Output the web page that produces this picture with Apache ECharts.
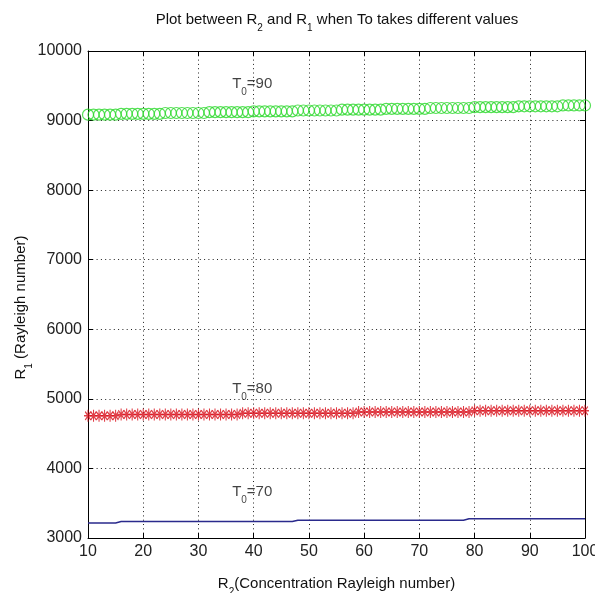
<!DOCTYPE html>
<html>
<head>
<meta charset="utf-8">
<script src="https://cdn.jsdelivr.net/npm/echarts@6/dist/echarts.min.js"></script>
<style>
html,body{margin:0;padding:0;background:#fff;}
#chart{width:595px;height:593px;}
</style>
</head>
<body>
<div id="chart"></div>
<script>
// R2 (Concentration Rayleigh number) sample points
var r2Values = [10,11,12,13,14,15,16,17,18,19,20,21,22,23,24,25,26,27,28,29,30,31,32,33,34,35,36,37,38,39,40,41,42,43,44,45,46,47,48,49,50,51,52,53,54,55,56,57,58,59,60,61,62,63,64,65,66,67,68,69,70,71,72,73,74,75,76,77,78,79,80,81,82,83,84,85,86,87,88,89,90,91,92,93,94,95,96,97,98,99,100];

// R1 for T0 = 90 (green circles)
var r1T90 = [9085,9085,9085,9085,9085,9085,
  9097,9097,9097,9097,9097,9097,9097,9097,
  9109,9109,9109,9109,9109,9109,9109,9109,
  9121,9121,9121,9121,9121,9121,9121,9121,
  9133,9133,9133,9133,9133,9133,9133,9133,
  9145,9145,9145,9145,9145,9145,9145,9145,
  9157,9157,9157,9157,9157,9157,9157,9157,
  9169,9169,9169,9169,9169,9169,9169,9169,
  9181,9181,9181,9181,9181,9181,9181,9181,
  9193,9193,9193,9193,9193,9193,9193,9193,
  9205,9205,9205,9205,9205,9205,9205,9205,
  9217,9217,9217,9217,9217];

// R1 for T0 = 80 (red asterisks)
var r1T80 = [4757,4757,4757,4757,4757,4757,
  4775,4775,4775,4775,4775,4775,4775,4775,4775,4775,4775,4775,4775,4775,4775,4775,4775,4775,4775,4775,4775,4775,
  4793,4793,4793,4793,4793,4793,4793,4793,4793,4793,4793,4793,4793,4793,4793,4793,4793,4793,4793,4793,4793,
  4811,4811,4811,4811,4811,4811,4811,4811,4811,4811,4811,4811,4811,4811,4811,4811,4811,4811,4811,4811,4811,
  4829,4829,4829,4829,4829,4829,4829,4829,4829,4829,4829,4829,4829,4829,4829,4829,4829,4829,4829,4829,4829];

// R1 for T0 = 70 (blue line)
var r1T70 = [3215,3215,3215,3215,3215,3215,
  3236,3236,3236,3236,3236,3236,3236,3236,3236,3236,3236,3236,3236,3236,3236,3236,3236,3236,3236,3236,3236,3236,3236,3236,3236,3236,3236,3236,3236,3236,3236,3236,
  3256,3256,3256,3256,3256,3256,3256,3256,3256,3256,3256,3256,3256,3256,3256,3256,3256,3256,3256,3256,3256,3256,3256,3256,3256,3256,3256,3256,3256,3256,3256,
  3277,3277,3277,3277,3277,3277,3277,3277,3277,3277,3277,3277,3277,3277,3277,3277,3277,3277,3277,3277,3277,3277];

// Annotation labels
var labelTexts = ['90','80','70'];
var labelX = [36.1, 36.1, 36.1];
var labelY = [9483, 5099, 3625];

var xTicks = {min:10, max:100, interval:10};
var yTicks = {min:3000, max:10000, interval:1000};

function pairs(xs, ys){ var out=[]; for (var i=0;i<xs.length;i++) out.push([xs[i], ys[i]]); return out; }

var FONT = "'Liberation Sans',Arial,Helvetica,sans-serif";
var FS = 15;
var rich = {
  n: {fontFamily: FONT, fontSize: FS, fontWeight: 'normal', lineHeight: FS, verticalAlign: 'top', color: '#111'},
  s: {fontFamily: FONT, fontSize: 10, fontWeight: 'normal', lineHeight: 21, verticalAlign: 'bottom', color: '#111'}
};

var gridLine = {show: true, lineStyle: {color: '#222', width: 1, type: [1, 3.3]}};
var axLine = {show: true, lineStyle: {color: '#000', width: 1}};
var tick = {show: true, inside: true, length: 5, lineStyle: {color: '#000'}};
var tickLabel = {margin: 6, fontFamily: FONT, fontSize: 16, color: '#222', formatter: function(v){ return String(v); }};

var chart = echarts.init(document.getElementById('chart'), null, {renderer: 'canvas'});
chart.setOption({
  backgroundColor: '#fff',
  animation: false,
  title: {
    text: '{n|Plot between R}{s|2}{n| and R}{s|1}{n| when To takes different values}',
    left: 337, top: 12, textAlign: 'center', padding: 0,
    textStyle: {fontWeight: 'normal', rich: rich}
  },
  grid: {left: 88, right: 10, top: 51, bottom: 55, containLabel: false, outerBoundsMode: 'none'},
  xAxis: [{
    type: 'value', min: xTicks.min, max: xTicks.max, interval: xTicks.interval,
    position: 'bottom',
    axisLine: axLine, axisTick: tick, splitLine: gridLine,
    axisLabel: tickLabel,
    name: '{n|R}{s|2}{n|(Concentration Rayleigh number)}',
    nameLocation: 'middle', nameGap: 38, nameMoveOverlap: false,
    nameTextStyle: {rich: rich}
  }, {
    type: 'value', min: xTicks.min, max: xTicks.max, interval: xTicks.interval,
    position: 'top',
    axisLine: axLine, axisTick: tick, splitLine: {show: false}, axisLabel: {show: false}
  }],
  yAxis: [{
    type: 'value', min: yTicks.min, max: yTicks.max, interval: yTicks.interval,
    position: 'left',
    axisLine: axLine, axisTick: tick, splitLine: gridLine,
    axisLabel: tickLabel,
    name: '{n|R}{s|1}{n| (Rayleigh number)}',
    nameLocation: 'middle', nameGap: 54, nameRotate: 90, nameMoveOverlap: false,
    nameTextStyle: {rich: rich, padding: [0, 26, 0, 0]}
  }, {
    type: 'value', min: yTicks.min, max: yTicks.max, interval: yTicks.interval,
    position: 'right',
    axisLine: axLine, axisTick: tick, splitLine: {show: false}, axisLabel: {show: false}
  }],
  series: [{
    name: 'T0=90', type: 'scatter', xAxisIndex: 0, yAxisIndex: 0,
    data: pairs(r2Values, r1T90),
    symbol: 'circle', symbolSize: 11,
    itemStyle: {color: 'rgba(0,0,0,0)', borderColor: '#2bd82b', borderWidth: 1.2},
    z: 3
  }, {
    name: 'T0=80', type: 'scatter', xAxisIndex: 0, yAxisIndex: 0,
    data: pairs(r2Values, r1T80),
    symbol: 'path://M5 0 L5 10 M0 5 L10 5 M1.5 1.5 L8.5 8.5 M8.5 1.5 L1.5 8.5',
    symbolSize: [8, 12],
    itemStyle: {color: 'rgba(0,0,0,0)', borderColor: '#d80c18', borderWidth: 1.3},
    z: 3
  }, {
    name: 'T0=70', type: 'line', xAxisIndex: 0, yAxisIndex: 0,
    data: pairs(r2Values, r1T70),
    showSymbol: false, symbol: 'none',
    lineStyle: {color: '#2a2a8c', width: 1.5},
    z: 3
  }, {
    name: 'labels', type: 'scatter', xAxisIndex: 0, yAxisIndex: 0,
    data: pairs(labelX, labelY).map(function(p, i){ return {value: p, name: labelTexts[i]}; }),
    symbolSize: 0, silent: true,
    label: {
      show: true, position: 'inside', align: 'left', verticalAlign: 'middle',
      formatter: function(p){ return '{n|T}{s|0}{n|=' + p.name + '}'; },
      rich: rich
    },
    z: 4
  }]
});
</script>
</body>
</html>
